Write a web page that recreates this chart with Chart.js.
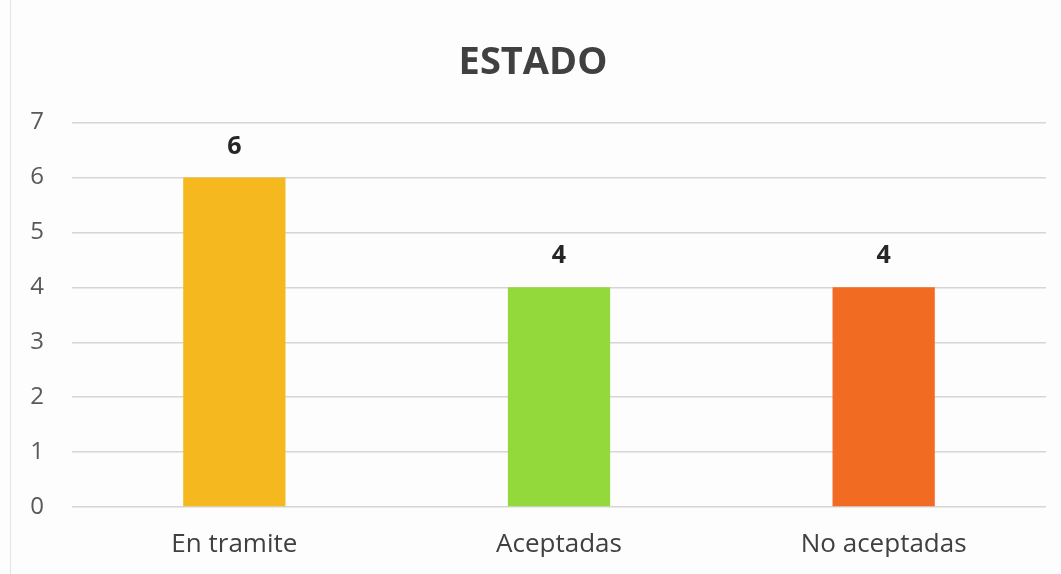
<!DOCTYPE html>
<html>
<head>
<meta charset="utf-8">
<script src="https://cdn.jsdelivr.net/npm/chart.js@4/dist/chart.umd.min.js"></script>
<style>
  html, body { margin: 0; padding: 0; background: #fdfdfd; }
  #wrap { position: relative; width: 1061px; height: 574px; }
  #wrap:before { content: ""; position: absolute; left: 10px; top: 0; bottom: 0; border-left: 1px solid #e4e4e4; }
</style>
</head>
<body>
<div id="wrap"><canvas id="c" width="1061" height="574"></canvas></div>
<script>
const categories = ["En tramite", "Aceptadas", "No aceptadas"];
const values = [6, 4, 4];
const barColors = ["#F6B81F", "#93D93B", "#F26B22"];
const yTicks = [0, 1, 2, 3, 4, 5, 6, 7];
const title = "ESTADO";

const valueLabels = {
  id: "valueLabels",
  afterDatasetsDraw(chart) {
    const ctx = chart.ctx;
    const meta = chart.getDatasetMeta(0);
    ctx.save();
    ctx.font = "bold 25px 'Open Sans', Lato, sans-serif";
    ctx.fillStyle = "#262626";
    ctx.textAlign = "center";
    ctx.textBaseline = "middle";
    meta.data.forEach((bar, i) => {
      ctx.fillText(String(values[i]), bar.x, bar.y - 31);
    });
    ctx.restore();
  }
};

new Chart(document.getElementById("c"), {
  type: "bar",
  data: {
    labels: categories,
    datasets: [{
      data: values,
      backgroundColor: barColors,
      borderWidth: 0,
      categoryPercentage: 1,
      barPercentage: 0.315
    }]
  },
  options: {
    responsive: false,
    animation: false,
    layout: { padding: { left: 20, right: 15, top: 0, bottom: 17 } },
    plugins: {
      legend: { display: false },
      tooltip: { enabled: false },
      title: {
        display: true,
        text: title,
        color: "#404040",
        font: { family: "'Open Sans', Lato, sans-serif", size: 38, weight: "bold", lineHeight: 1.2 },
        padding: { top: 40, bottom: 37 }
      }
    },
    scales: {
      x: {
        afterFit(scale) { scale.height = 50; },
        grid: { display: false, drawTicks: false },
        border: { display: false },
        ticks: {
          color: "#404040",
          padding: 22,
          font: { family: "'Open Sans', Lato, sans-serif", size: 26 }
        }
      },
      y: {
        min: 0,
        max: 7,
        afterFit(scale) { scale.width = 52; },
        afterBuildTicks(scale) { scale.ticks = yTicks.map(v => ({ value: v })); },
        grid: { color: "#d6d6d6", lineWidth: 1.5, drawTicks: false },
        border: { display: false },
        ticks: {
          color: "#595959",
          padding: 28,
          font: { family: "'Open Sans', Lato, sans-serif", size: 24 }
        }
      }
    }
  },
  plugins: [valueLabels]
});
</script>
</body>
</html>
